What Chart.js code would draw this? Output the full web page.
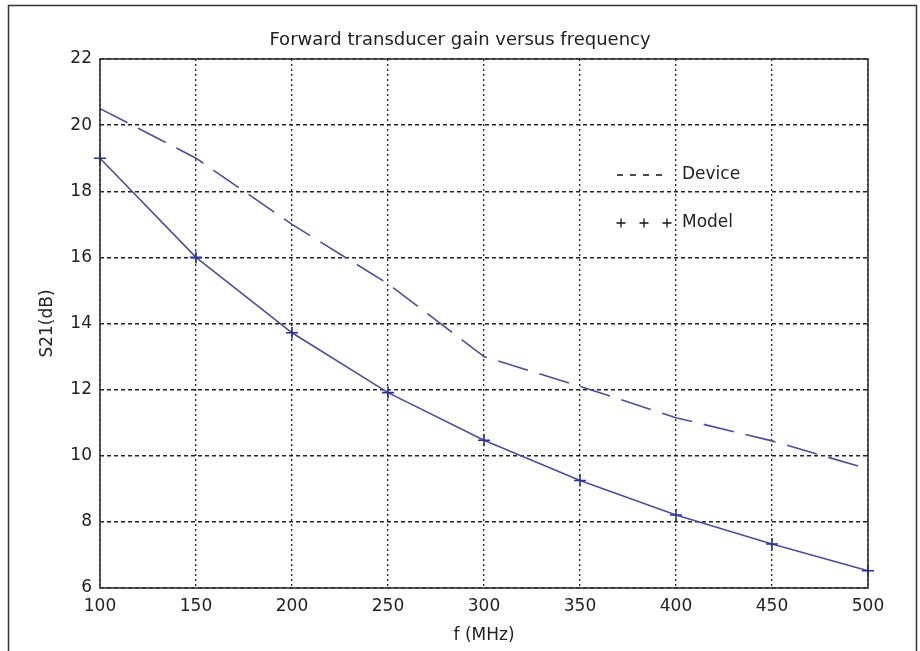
<!DOCTYPE html>
<html>
<head>
<meta charset="utf-8">
<script src="https://cdn.jsdelivr.net/npm/chart.js@4/dist/chart.umd.min.js"></script>
<style>
  html, body { margin: 0; padding: 0; background: #fff; }
  #wrap { position: absolute; left: 0; top: 0; width: 920px; height: 651px; }
</style>
</head>
<body>
<div id="wrap"><canvas id="c" width="920" height="651"></canvas></div>
<script>
const frequencies = [100, 150, 200, 250, 300, 350, 400, 450, 500];
const deviceS21 = [20.5, 19.0, 17.0, 15.2, 13.0, 12.1, 11.15, 10.45, 9.6];
const modelS21 = [19.0, 16.0, 13.72, 11.91, 10.47, 9.25, 8.21, 7.33, 6.52];
const seriesNames = ['Device', 'Model'];
const xTicks = [100, 150, 200, 250, 300, 350, 400, 450, 500];
const yTicks = [6, 8, 10, 12, 14, 16, 18, 20, 22];
const titleText = 'Forward transducer gain versus frequency';
const xLabel = 'f (MHz)';
const yLabel = 'S21(dB)';

const FONT = '"DejaVu Sans", Verdana, sans-serif';

const framePlugin = {
  id: 'frame',
  afterDraw(chart) {
    const ctx = chart.ctx;
    const a = chart.chartArea;
    ctx.save();
    ctx.setLineDash([]);
    // outer figure border
    ctx.strokeStyle = '#333';
    ctx.lineWidth = 1.5;
    ctx.strokeRect(8.5, 5.5, 908, 660);
    // plot box
    ctx.strokeStyle = '#333';
    ctx.lineWidth = 1.6;
    ctx.strokeRect(a.left, a.top, a.right - a.left, a.bottom - a.top);
    // legend
    const lx1 = 617, lx2 = 668, tx = 682;
    const y1 = 175, y2 = 223;
    ctx.strokeStyle = '#111';
    ctx.lineWidth = 1.3;
    ctx.setLineDash([6, 7]);
    ctx.beginPath();
    ctx.moveTo(lx1, y1);
    ctx.lineTo(lx2, y1);
    ctx.stroke();
    ctx.setLineDash([]);
    [621, 644, 667].forEach(px => {
      ctx.beginPath();
      ctx.moveTo(px - 4.5, y2); ctx.lineTo(px + 4.5, y2);
      ctx.moveTo(px, y2 - 4.5); ctx.lineTo(px, y2 + 4.5);
      ctx.stroke();
    });
    ctx.fillStyle = '#222';
    ctx.font = '17px ' + FONT;
    ctx.textBaseline = 'middle';
    ctx.textAlign = 'left';
    ctx.fillText(chart.data.datasets[0].label, tx, y1);
    ctx.fillText(chart.data.datasets[1].label, tx, y2);
    ctx.restore();
  }
};

new Chart(document.getElementById('c'), {
  type: 'line',
  data: {
    datasets: [
      {
        label: seriesNames[0],
        data: frequencies.map((f, i) => ({ x: f, y: deviceS21[i] })),
        borderColor: '#4b4ba6',
        borderWidth: 1.6,
        borderDash: [31, 12],
        pointRadius: 0,
        tension: 0,
        clip: false
      },
      {
        label: seriesNames[1],
        data: frequencies.map((f, i) => ({ x: f, y: modelS21[i] })),
        borderColor: '#4b4ba6',
        borderWidth: 1.6,
        pointStyle: 'cross',
        pointRadius: 6,
        pointBorderWidth: 1.6,
        pointBorderColor: '#2233a0',
        tension: 0,
        clip: false
      }
    ]
  },
  options: {
    responsive: false,
    animation: false,
    events: [],
    layout: { padding: 0 },
    plugins: {
      legend: { display: false },
      tooltip: { enabled: false },
      title: {
        display: true,
        text: titleText,
        color: '#222',
        font: { family: FONT, size: 18, weight: 'normal' },
        padding: { top: 30, bottom: 7.4 }
      }
    },
    scales: {
      x: {
        type: 'linear',
        min: 100,
        max: 500,
        afterBuildTicks(scale) { scale.ticks = xTicks.map(v => ({ value: v })); },
        afterFit(scale) { scale.height = 63; },
        grid: { color: '#222', lineWidth: 1.3, drawTicks: false },
        border: { display: false, dash: [2, 3] },
        ticks: {
          color: '#222',
          font: { family: FONT, size: 17 },
          padding: 8,
          maxRotation: 0,
          autoSkip: false
        },
        title: {
          display: true,
          text: xLabel,
          color: '#222',
          font: { family: FONT, size: 17 },
          padding: { top: 0, bottom: 5 }
        }
      },
      y: {
        type: 'linear',
        position: 'left',
        min: 6,
        max: 22,
        afterBuildTicks(scale) { scale.ticks = yTicks.map(v => ({ value: v })); },
        afterFit(scale) { scale.width = 100; },
        grid: { color: '#222', lineWidth: 1.5, drawTicks: false },
        border: { display: false, dash: [4, 3] },
        ticks: {
          color: '#222',
          font: { family: FONT, size: 17 },
          padding: 8,
          autoSkip: false
        },
        title: {
          display: true,
          text: yLabel,
          color: '#222',
          font: { family: FONT, size: 17 },
          padding: { top: 37, bottom: 0 }
        }
      },
      yR: {
        type: 'linear',
        position: 'right',
        min: 0,
        max: 1,
        afterFit(scale) { scale.width = 52; },
        grid: { display: false, drawTicks: false },
        border: { display: false },
        ticks: { display: false }
      }
    }
  },
  plugins: [framePlugin]
});
</script>
</body>
</html>
